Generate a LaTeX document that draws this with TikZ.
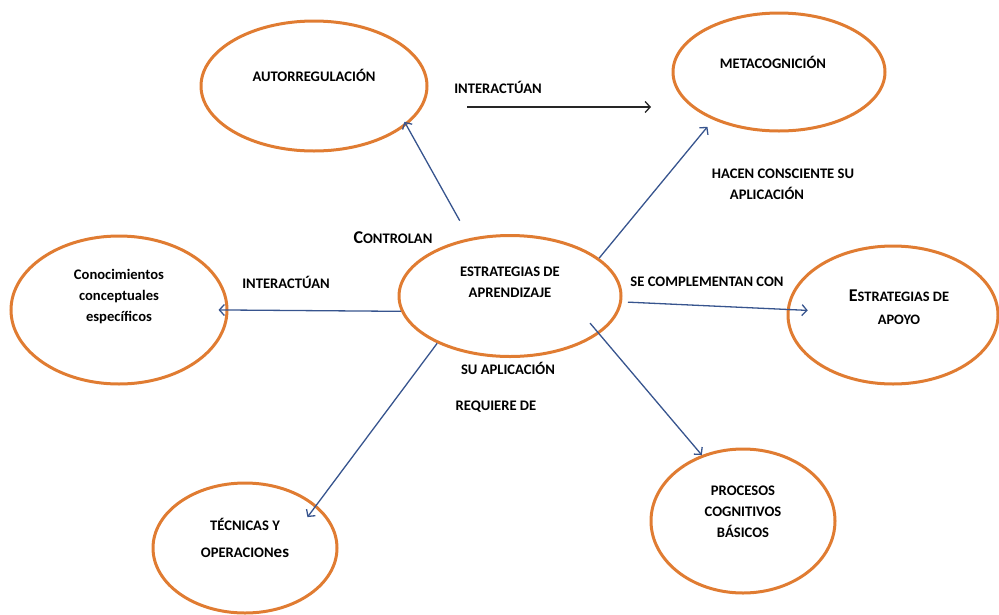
\documentclass[tikz,border=0pt]{standalone}
\usepackage{fontspec}
\setmainfont{Carlito}
\usetikzlibrary{shapes.geometric,arrows.meta}

\definecolor{bubbleorange}{RGB}{224,124,50}
\definecolor{linkblue}{RGB}{55,84,142}
\newcommand{\capinit}[1]{{\fontsize{18}{18}\selectfont #1}}

\begin{document}
\begin{tikzpicture}[x=1pt, y=-1pt,
    bubble/.style={ellipse, draw=bubbleorange, line width=3pt, inner sep=0pt},
    txt/.style={font=\fontsize{14.6}{21}\selectfont\bfseries, align=center, inner sep=0pt},
    link/.style={draw=linkblue, line width=1.3pt, -{Straight Barb[length=5pt,width=11pt]}}]
  \useasboundingbox (0,0) rectangle (999,614);
  \coordinate (c0) at (510, 296);
  \coordinate (c1) at (314, 86);
  \coordinate (c2) at (779, 72);
  \coordinate (c3) at (119, 310);
  \coordinate (c4) at (245, 548);
  \coordinate (c5) at (893, 315);
  \coordinate (c6) at (743, 521);
  \coordinate (i0) at (467, 107);
  \coordinate (i1) at (651, 107);

  % the seven bubbles
  \node[bubble, minimum width=222pt, minimum height=121pt] (estr) at (c0) {};
  \node[bubble, minimum width=226pt, minimum height=130pt] (auto) at (c1) {};
  \node[bubble, minimum width=212pt, minimum height=118pt] (meta) at (c2) {};
  \node[bubble, minimum width=216pt, minimum height=148pt] (conoc) at (c3) {};
  \node[bubble, minimum width=184pt, minimum height=130pt] (tecn) at (c4) {};
  \node[bubble, minimum width=210pt, minimum height=138pt] (apoyo) at (c5) {};
  \node[bubble, minimum width=184pt, minimum height=144pt] (proc) at (c6) {};

  \node[txt] (estrt) at ([yshift=13.5pt]estr.center) {ESTRATEGIAS DE\\APRENDIZAJE};
  \node[txt] (autot) at ([yshift=11pt]auto.center) {AUTORREGULACIÓN};
  \node[txt] (metat) at ([xshift=-6pt, yshift=10pt]meta.center) {METACOGNICIÓN};
  \node[txt] (conoct) at ([yshift=13.5pt]conoc.center) {Conocimientos\\conceptuales\\específicos};
  \node[txt, font=\fontsize{14.6}{27}\selectfont\bfseries] (tecnt) at ([yshift=10.5pt]tecn.center) {TÉCNICAS Y\\OPERACION{\fontsize{17}{17}\selectfont es}};
  \node[txt, font=\fontsize{14.4}{23}\selectfont\bfseries] (apoyot) at ([xshift=6pt, yshift=7.5pt]apoyo.center) {\capinit{E}STRATEGIAS DE\\APOYO};
  \node[txt] (proct) at ([yshift=9.5pt]proc.center) {PROCESOS\\COGNITIVOS\\BÁSICOS};

  % connectors
  \draw[link, shorten <=20pt, shorten >=-4pt] (estr.125) -- (auto.-23);
  \draw[link, shorten >=9pt] (estr.23) -- (meta.216);
  \draw[link, shorten >=-10pt] (estr.188) -- (conoc.east);
  \draw[link, shorten >=-15pt] (estr.213) -- (tecn.31);
  \draw[link, shorten <=6pt, shorten >=-21pt] (estr.-3) -- (apoyo.177);
  \draw[link, shorten <=-14pt] (estr.-23) -- (proc.122);
  \draw[link, draw=black!85] (i0) -- (i1);

  % connector texts
  \node[txt] (lint1) at (498, 87) {INTERACTÚAN};
  \node[txt] (lctrl) at (393, 238) {\capinit{C}ONTROLAN};
  \node[txt] (lint2) at (286, 282) {INTERACTÚAN};
  \node[txt] (lhacen) at (783, 184) {HACEN CONSCIENTE SU\\\hspace*{-32pt}APLICACIÓN};
  \node[txt] (lcompl) at (707, 282) {SE COMPLEMENTAN CON};
  \node[txt] (lsu) at (508, 368) {SU APLICACIÓN};
  \node[txt] (lreq) at (496, 407) {REQUIERE DE};
\end{tikzpicture}
\end{document}
